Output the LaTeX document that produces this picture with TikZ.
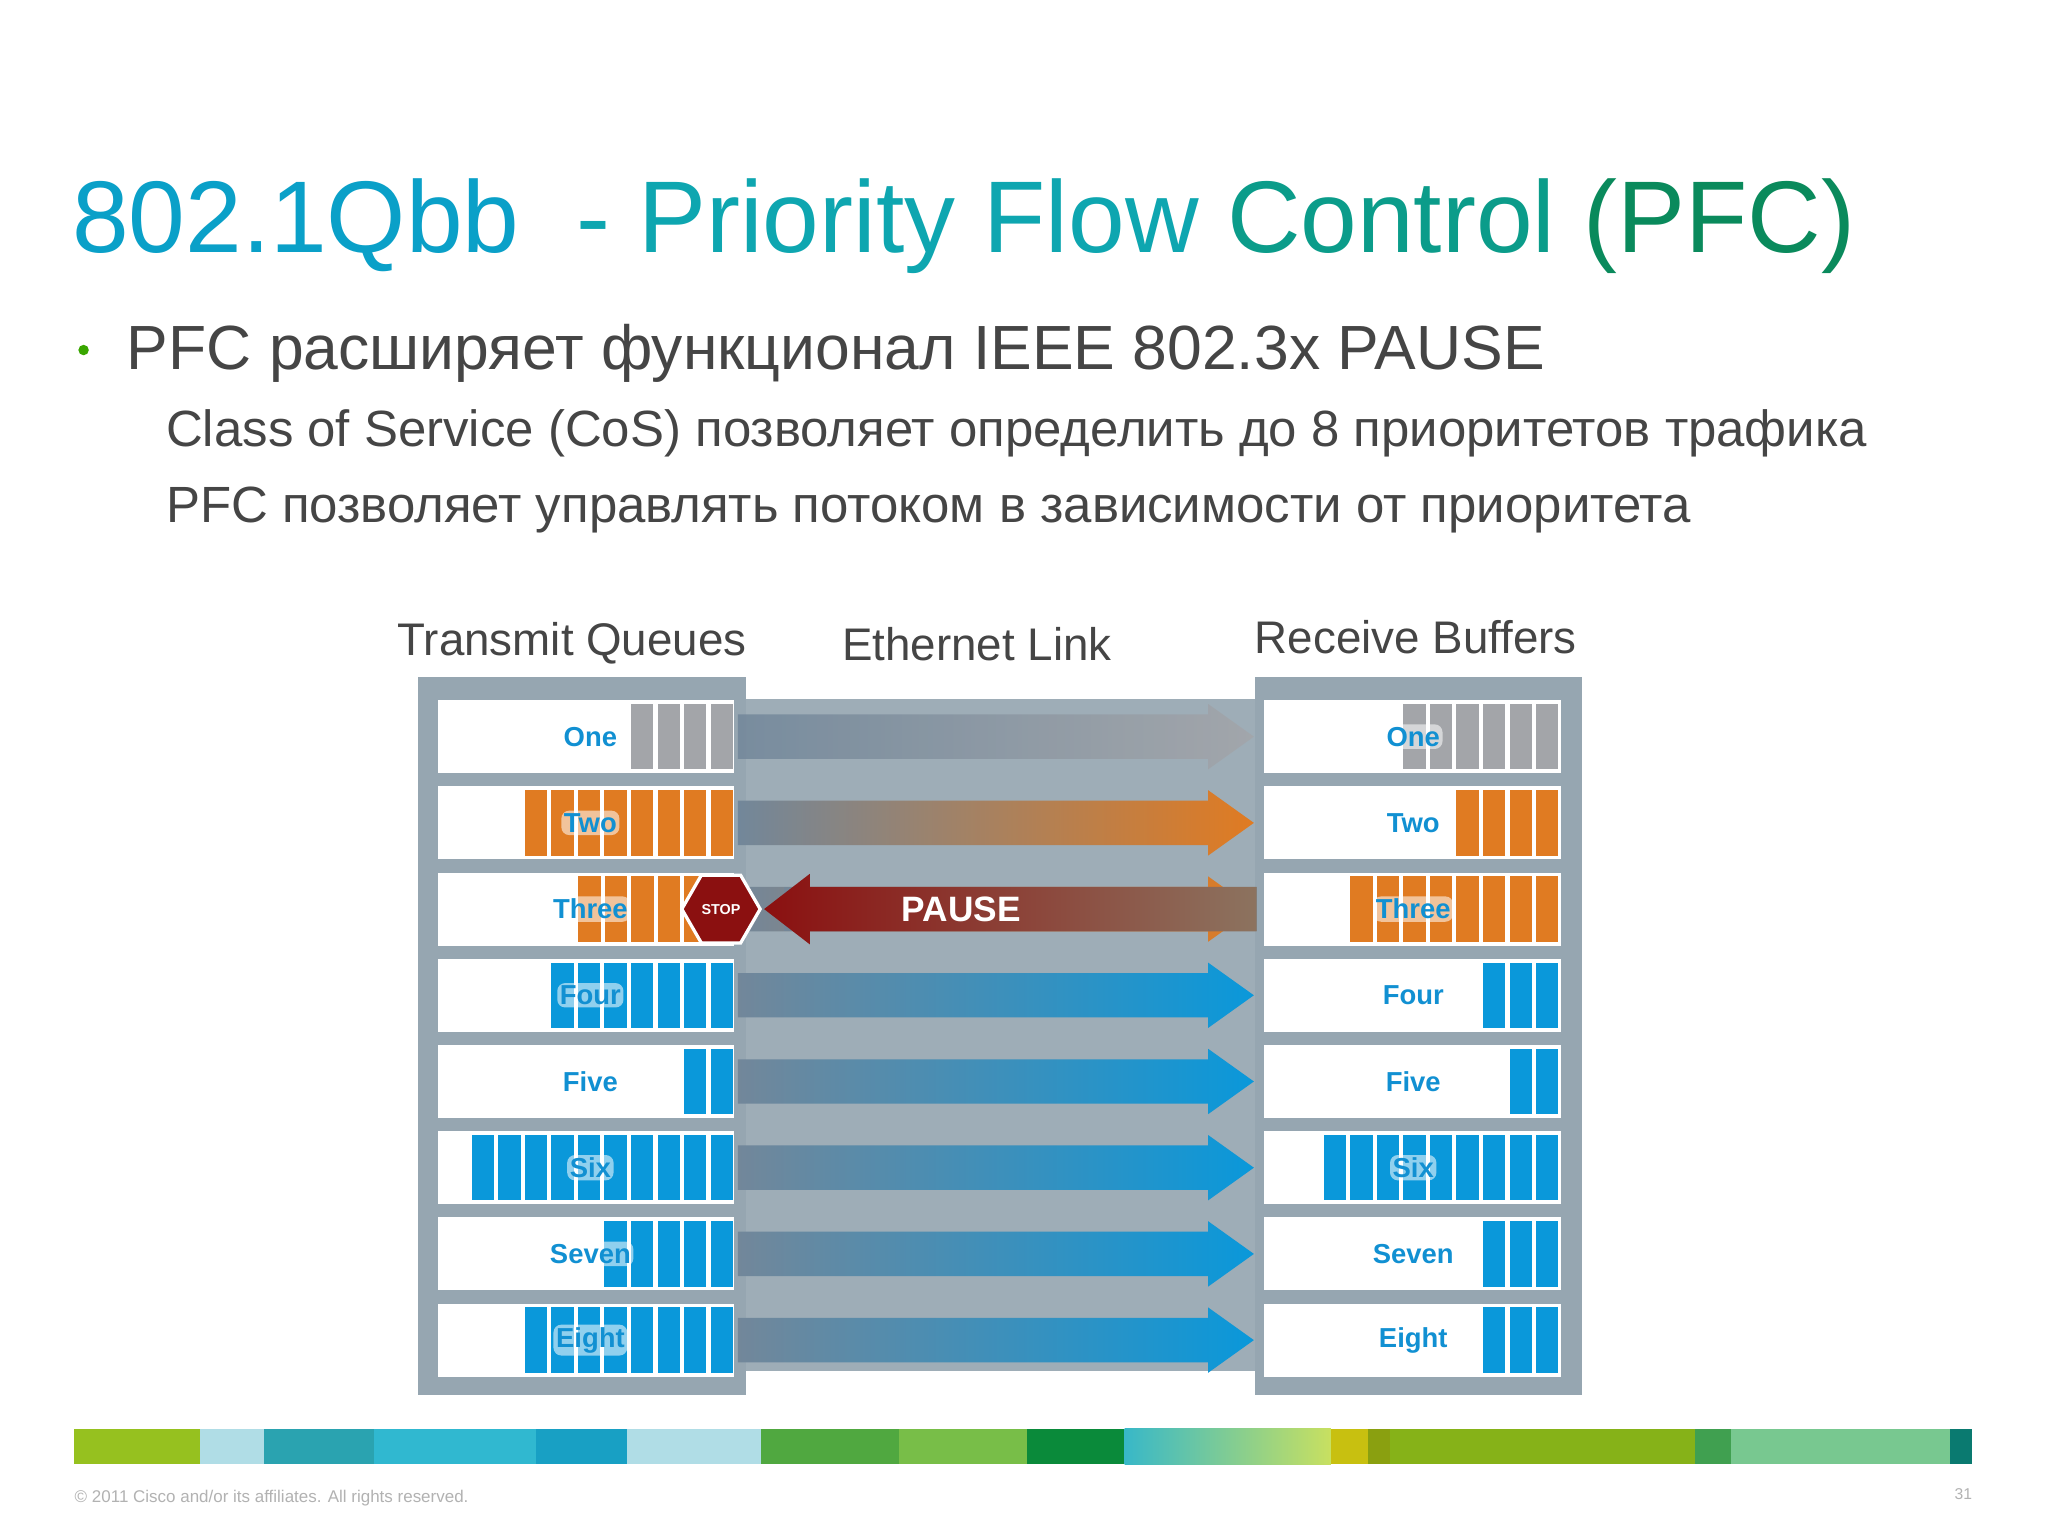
\documentclass[tikz,border=0pt]{standalone}
\usepackage{fontspec}
\setmainfont{Liberation Sans}
\usetikzlibrary{shapes.geometric}
\definecolor{tblue}{HTML}{0AA0C8}
\definecolor{tteal}{HTML}{0EA6B0}
\definecolor{tgreenb}{HTML}{0B9C8A}
\definecolor{tgreen}{HTML}{0A8A5C}
\definecolor{txt}{HTML}{454545}
\definecolor{frame}{HTML}{96A6B1}
\definecolor{band}{HTML}{9EADB7}
\definecolor{lbl}{HTML}{1190D2}
\definecolor{cgray}{HTML}{A3A5A9}
\definecolor{corange}{HTML}{E07B22}
\definecolor{cblue}{HTML}{0A98DA}
\definecolor{slate}{HTML}{72879A}
\definecolor{stopred}{HTML}{8B1010}
\tikzset{
  qbox/.style={fill=white,draw=none},
  blk/.style={draw=none},
  rowlbl/.style={font=\fontsize{21}{21}\selectfont\bfseries,text=lbl,inner sep=2,fill=white,fill opacity=0.55,text opacity=1,rounded corners=6},
  hdr/.style={font=\fontsize{35}{35}\selectfont,text=txt,anchor=base,inner sep=0},
}
\begin{document}
\begin{tikzpicture}[x=1pt,y=-1pt]
\useasboundingbox (0,0) rectangle (1568,1176);
\fill[white] (0,0) rectangle (1568,1176);
% title
\node[anchor=base west,inner sep=0,font=\fontsize{78}{78}\selectfont] (title) at (55,193)
 {\textcolor{tblue}{802.1Qbb}\ \ \textcolor{tteal}{- Priority Flow }\textcolor{tgreenb}{Control }\textcolor{tgreen}{(PFC)}};
\fill[green!50!black!70!lime] (64,268) circle (4);
\node[anchor=base west,inner sep=0,font=\fontsize{47.8}{48}\selectfont,text=txt] (b1) at (97,283) {PFC расширяет функционал IEEE 802.3x PAUSE};
\node[anchor=base west,inner sep=0,font=\fontsize{39}{39}\selectfont,text=txt] (b2) at (127,342) {Class of Service (CoS) позволяет определить до 8 приоритетов трафика};
\node[anchor=base west,inner sep=0,font=\fontsize{39}{39}\selectfont,text=txt] (b3) at (127,400) {PFC позволяет управлять потоком в зависимости от приоритета};
% headers
\node[hdr] (h1) at (438,502) {Transmit Queues};
\node[hdr] (h2) at (748,506) {Ethernet Link};
\node[hdr] (h3) at (1084,500) {Receive Buffers};
% frames
\fill[band] (571,535) rectangle (962,1050);
\fill[frame] (320,518) rectangle (571,1068);
\fill[frame] (961,518) rectangle (1211,1068);
% rows
\foreach \i/\nm/\nl/\cl/\nr in {1/One/4/cgray/6,2/Two/8/corange/4,3/Three/5/corange/8,4/Four/7/cblue/3,5/Five/2/cblue/2,6/Six/10/cblue/9,7/Seven/5/cblue/3,8/Eight/8/cblue/3}{
  \pgfmathsetmacro{\yc}{564+66*(\i-1)}
  \fill[qbox] (335,\yc-28) rectangle (562,\yc+28);
  \fill[qbox] (968,\yc-28) rectangle (1195,\yc+28);
  \pgfmathsetmacro{\lend}{\i==3 ? 541 : 561}
  \foreach \k in {1,...,\nl}{
    \pgfmathsetmacro{\xr}{\lend-20.3*(\k-1)}
    \fill[\cl,blk] (\xr-17,\yc-25) rectangle (\xr,\yc+25);
  }
  \foreach \k in {1,...,\nr}{
    \pgfmathsetmacro{\xr}{1193-20.3*(\k-1)}
    \fill[\cl,blk] (\xr-17,\yc-25) rectangle (\xr,\yc+25);
  }
  \node[rowlbl] (l\i) at (452,\yc) {\nm};
  \node[rowlbl] (r\i) at (1082,\yc) {\nm};
  \ifnum\i=1
    \shade[left color=slate,right color=cgray,fill opacity=0.85] (565,\yc-17)--(925,\yc-17)--(925,\yc-25)--(960,\yc)--(925,\yc+25)--(925,\yc+17)--(565,\yc+17)--cycle;
  \else
    \shade[left color=slate,right color=\cl] (565,\yc-17)--(925,\yc-17)--(925,\yc-25)--(960,\yc)--(925,\yc+25)--(925,\yc+17)--(565,\yc+17)--cycle;
  \fi
}
% pause row
\fill[slate,opacity=0.8] (600,696-17) rectangle (962,696+17);
\shade[left color=stopred,right color={rgb,255:red,140;green,115;blue,95}] (962,679)--(620,679)--(620,669)--(585,696)--(620,723)--(620,713)--(962,713)--cycle;
\node[font=\fontsize{27}{27}\selectfont\bfseries,text=white,inner sep=0] (pause) at (736,696) {PAUSE};
\node[regular polygon,regular polygon sides=6,minimum size=60,fill=stopred,draw=white,line width=2.5,inner sep=0,
  font=\fontsize{11}{11}\selectfont\bfseries,text=white] (stop) at (552,696) {STOP};
% footer bar
\foreach \a/\b/\c in {57/153/96C11F,153/202/B0DDE6,202/286/2AA3B0,286/410/30B8D0,410/480/18A0C4,480/583/B0DDE6,583/688/50A840,688/786/78BE48,786/861/0A8A3A,1019/1047/C8C010,1047/1064/8AA010,1064/1298/86B218,1298/1325/40A050,1325/1493/78C890,1493/1510/0A7A70}{
  \definecolor{seg}{HTML}{\c}
  \fill[seg] (\a,1094) rectangle (\b,1121);
}
\shade[left color={rgb,255:red,56;green,184;blue,200},right color={rgb,255:red,200;green,224;blue,96}] (861,1094) rectangle (1019,1121);
\node[anchor=base west,inner sep=0,font=\fontsize{13}{13}\selectfont,text=black!30] (copy) at (57,1150) {© 2011 Cisco and/or its affiliates. All rights reserved.};
\node[anchor=base east,inner sep=0,font=\fontsize{12}{12}\selectfont,text=black!30] (pg) at (1510,1148) {31};
\end{tikzpicture}
\end{document}
